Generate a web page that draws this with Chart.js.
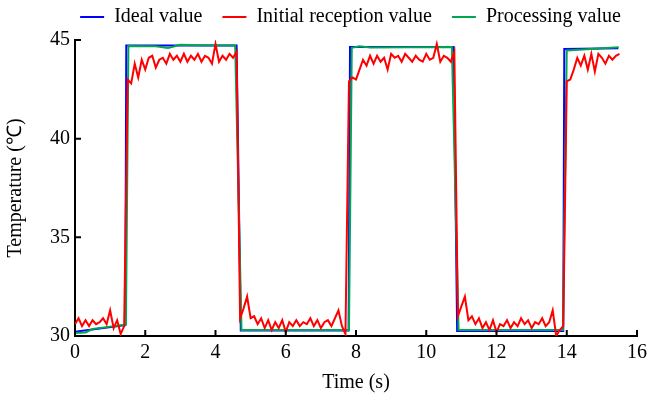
<!DOCTYPE html>
<html>
<head>
<meta charset="utf-8">
<script src="https://cdn.jsdelivr.net/npm/chart.js@4/dist/chart.umd.min.js"></script>
<style>
  html, body { margin: 0; padding: 0; background: #fff; }
  #wrap { width: 648px; height: 400px; }
</style>
</head>
<body>
<div id="wrap"><canvas id="chart"></canvas></div>
<script>
// ideal square wave (corner points)
const idealTime = [0, 1.43, 1.46, 4.6, 4.72, 7.79, 7.83, 10.78, 10.88, 13.9, 13.93, 15.47];
const idealTemp = [30.22, 30.55, 44.72, 44.72, 30.28, 30.28, 44.64, 44.64, 30.25, 30.25, 44.55, 44.58];

// processed signal
const procTime = [0, 0.3, 0.5, 0.9, 1.45, 1.52, 2.3, 2.65, 3.0, 3.5, 4.56, 4.74, 7.8, 7.88, 8.1, 8.4, 10.73, 10.92, 13.89, 14.0, 15.48];
const procTemp = [30.15, 30.18, 30.35, 30.45, 30.58, 44.7, 44.68, 44.6, 44.76, 44.74, 44.72, 30.3, 30.3, 44.6, 44.68, 44.62, 44.64, 30.3, 30.3, 44.47, 44.63];

// raw received signal
const rawTime = [
  0, 0.1, 0.2, 0.3, 0.4, 0.5, 0.6, 0.7, 0.8, 0.9,
  1, 1.1, 1.2, 1.3, 1.4, 1.5, 1.6, 1.7, 1.8, 1.9,
  2, 2.1, 2.2, 2.3, 2.4, 2.5, 2.6, 2.7, 2.8, 2.9,
  3, 3.1, 3.2, 3.3, 3.4, 3.5, 3.6, 3.7, 3.8, 3.9,
  4, 4.1, 4.2, 4.3, 4.4, 4.5, 4.6, 4.7, 4.8, 4.9,
  5, 5.1, 5.2, 5.3, 5.4, 5.5, 5.6, 5.7, 5.8, 5.9,
  6, 6.1, 6.2, 6.3, 6.4, 6.5, 6.6, 6.7, 6.8, 6.9,
  7, 7.1, 7.2, 7.3, 7.4, 7.5, 7.6, 7.7, 7.8, 7.9,
  8, 8.1, 8.2, 8.3, 8.4, 8.5, 8.6, 8.7, 8.8, 8.9,
  9, 9.1, 9.2, 9.3, 9.4, 9.5, 9.6, 9.7, 9.8, 9.9,
  10, 10.1, 10.2, 10.3, 10.4, 10.5, 10.6, 10.7, 10.8, 10.9,
  11, 11.1, 11.2, 11.3, 11.4, 11.5, 11.6, 11.7, 11.8, 11.9,
  12, 12.1, 12.2, 12.3, 12.4, 12.5, 12.6, 12.7, 12.8, 12.9,
  13, 13.1, 13.2, 13.3, 13.4, 13.5, 13.6, 13.7, 13.8, 13.9,
  14, 14.1, 14.2, 14.3, 14.4, 14.5, 14.6, 14.7, 14.8, 14.9,
  15, 15.1, 15.2, 15.3, 15.4, 15.5
];
const rawTemp = [
  30.6, 30.9, 30.5, 30.8, 30.5, 30.8, 30.6, 30.7, 30.9, 30.6,
  31.3, 30.4, 30.8, 30.1, 30.5, 43.0, 42.8, 43.8, 43.1, 44.0,
  43.5, 44.1, 44.2, 43.6, 44.0, 44.1, 43.8, 44.3, 44.0, 44.2,
  43.9, 44.3, 43.9, 44.2, 44.0, 44.3, 43.9, 44.2, 44.1, 43.8,
  44.8, 43.9, 44.2, 44.0, 44.3, 44.1, 44.4, 30.9, 31.4, 32.0,
  30.9, 31.0, 30.6, 30.9, 30.4, 30.8, 30.3, 30.7, 30.4, 30.8,
  30.2, 30.7, 30.5, 30.8, 30.5, 30.7, 30.6, 30.9, 30.5, 30.8,
  30.4, 30.7, 30.8, 30.5, 30.9, 31.3, 30.5, 30.1, 42.9, 43.1,
  43.0, 43.5, 44.0, 43.7, 44.2, 43.8, 44.2, 43.9, 44.1, 43.5,
  44.3, 44.1, 44.2, 43.9, 44.3, 44.1, 43.9, 44.2, 44.0, 43.9,
  44.3, 44.0, 44.1, 44.8, 43.9, 44.2, 44.1, 43.9, 44.4, 31.0,
  31.5, 32.0, 30.8, 31.0, 30.6, 30.9, 30.4, 30.7, 30.3, 30.8,
  30.2, 30.6, 30.5, 30.8, 30.4, 30.7, 30.5, 30.9, 30.6, 30.8,
  30.4, 30.7, 30.6, 30.9, 30.5, 30.7, 31.3, 30.0, 30.3, 30.5,
  42.9, 43.0, 43.5, 44.1, 43.7, 44.2, 43.5, 44.3, 43.4, 44.3,
  44.1, 43.8, 44.2, 44.0, 44.2, 44.3
];

const xTicks = [0, 2, 4, 6, 8, 10, 12, 14, 16];
const yTicks = [30, 35, 40, 45];

const toPoints = (xs, ys) => xs.map((x, i) => ({ x: x, y: ys[i] }));
const serif = 'Liberation Serif, Times New Roman, serif';
const legendPad = 20;

// inward tick marks like the original figure
const innerTicks = {
  id: 'innerTicks',
  afterDraw(chart) {
    const ctx = chart.ctx;
    const xs = chart.scales.x, ys = chart.scales.y;
    const area = chart.chartArea;
    ctx.save();
    ctx.strokeStyle = '#000';
    ctx.lineWidth = 2;
    ctx.beginPath();
    xTicks.forEach(v => {
      const px = xs.getPixelForValue(v);
      ctx.moveTo(px, area.bottom);
      ctx.lineTo(px, area.bottom - 6);
    });
    yTicks.forEach(v => {
      const py = ys.getPixelForValue(v);
      ctx.moveTo(area.left, py);
      ctx.lineTo(area.left + 6, py);
    });
    ctx.stroke();
    ctx.restore();
  }
};

// legend: fixed 40px band on top, items sit a bit right of centre
const legendPlace = {
  id: 'legendPlace',
  beforeLayout(chart) {
    const lg = chart.legend;
    if (lg && !lg._patched) {
      const fit = lg.fit;
      lg.fit = function () { fit.call(this); this.height = 40; };
      lg._patched = true;
    }
  },
  afterLayout(chart) {
    const lg = chart.legend;
    const dx = 12 + legendPad;
    lg.left += dx;
    lg.right += dx;
    lg.top = 7 - legendPad;
    lg.bottom = lg.top + lg.height;
  }
};

const ctx = document.getElementById('chart').getContext('2d');
new Chart(ctx, {
  type: 'line',
  data: {
    datasets: [
      {
        label: 'Ideal value',
        data: toPoints(idealTime, idealTemp),
        borderColor: '#0000ff',
        backgroundColor: '#0000ff',
        borderWidth: 2,
        order: 2
      },
      {
        label: 'Initial reception value',
        data: toPoints(rawTime, rawTemp),
        borderColor: '#ff0000',
        backgroundColor: '#ff0000',
        borderWidth: 2,
        order: 0
      },
      {
        label: 'Processing value',
        data: toPoints(procTime, procTemp),
        borderColor: '#00a650',
        backgroundColor: '#00a650',
        borderWidth: 2,
        order: 1
      }
    ]
  },
  options: {
    responsive: true,
    maintainAspectRatio: false,
    animation: false,
    layout: { padding: { top: 0, right: 11, bottom: 0, left: 0 } },
    elements: {
      point: { radius: 0 },
      line: { tension: 0 }
    },
    plugins: {
      tooltip: { enabled: false },
      legend: {
        position: 'top',
        labels: {
          usePointStyle: true,
          pointStyle: 'line',
          pointStyleWidth: 24,
          padding: legendPad,
          color: '#000',
          font: { family: serif, size: 20 },
          sort: (a, b) => a.datasetIndex - b.datasetIndex
        }
      }
    },
    scales: {
      x: {
        type: 'linear',
        min: 0,
        max: 16,
        grid: { display: false, drawTicks: false },
        border: { color: '#000', width: 2 },
        ticks: {
          stepSize: 2,
          padding: 5,
          color: '#000',
          font: { family: serif, size: 20 }
        },
        title: {
          display: true,
          text: 'Time (s)',
          color: '#000',
          font: { family: serif, size: 20 },
          padding: { top: 4, bottom: 5 }
        },
        afterFit: (scale) => {
          scale.height = 64;
          scale.paddingRight = 11;
          scale.paddingLeft = 5;
        }
      },
      y: {
        min: 30,
        max: 45,
        grid: { display: false, drawTicks: false },
        border: { color: '#000', width: 2 },
        ticks: {
          stepSize: 5,
          padding: 5,
          color: '#000',
          font: { family: serif, size: 20 }
        },
        title: {
          display: true,
          text: 'Temperature (℃)',
          color: '#000',
          font: { family: serif, size: 20 },
          padding: { top: 4, bottom: 0 }
        },
        afterFit: (scale) => { scale.width = 75; }
      }
    }
  },
  plugins: [innerTicks, legendPlace]
});
</script>
</body>
</html>
